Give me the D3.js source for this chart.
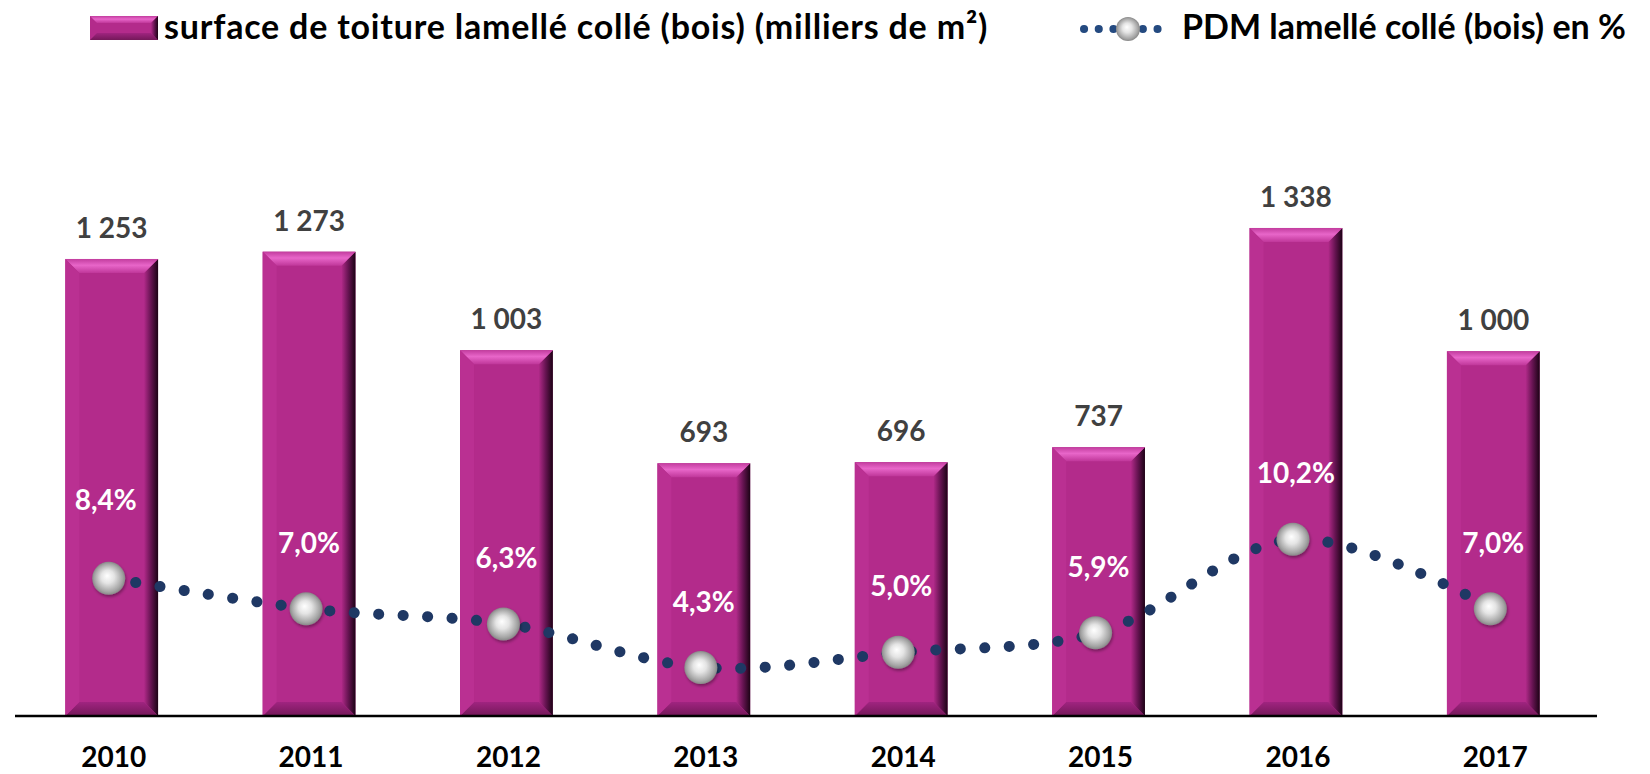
<!DOCTYPE html>
<html>
<head>
<meta charset="utf-8">
<script src="https://cdnjs.cloudflare.com/ajax/libs/d3/7.8.5/d3.min.js"></script>
<style>
  body { margin: 0; background: #fff; }
  text { font-family: "Lato", "Open Sans", sans-serif; font-weight: 700; }
</style>
</head>
<body>
<div id="chart"></div>
<script>
// DATA
var years = ["2010", "2011", "2012", "2013", "2014", "2015", "2016", "2017"];
var surfaces = [1253, 1273, 1003, 693, 696, 737, 1338, 1000]; // milliers de m2
var pdm = [8.4, 7.0, 6.3, 4.3, 5.0, 5.9, 10.2, 7.0]; // en %
var legendLabels = ["surface de toiture lamellé collé (bois) (milliers de m²)", "PDM lamellé collé (bois) en %"];

var rows = years.map(function(y, i) { return {year: y, surface: surfaces[i], pdm: pdm[i]}; });

var width = 1650;
var height = 774;
var baseline = 716;

var svg = d3.select("#chart").append("svg")
  .attr("width", width)
  .attr("height", height);

var fr = d3.formatLocale({decimal: ",", thousands: " ", grouping: [3], currency: ["", " €"]});
var fmtSurface = fr.format(",d");
var fmtPct = function(v) { return fr.format(".1f")(v) + "%"; };

// gradients
var defs = svg.append("defs");
var topGrad = defs.append("linearGradient").attr("id", "topBevel")
  .attr("x1", 0).attr("y1", 0).attr("x2", 0).attr("y2", 1);
topGrad.append("stop").attr("offset", "0%").attr("stop-color", "#c23c9e");
topGrad.append("stop").attr("offset", "45%").attr("stop-color", "#e866c9");
topGrad.append("stop").attr("offset", "100%").attr("stop-color", "#c0379a");

var rightGrad = defs.append("linearGradient").attr("id", "rightBevel")
  .attr("x1", 0).attr("y1", 0).attr("x2", 1).attr("y2", 0);
rightGrad.append("stop").attr("offset", "0%").attr("stop-color", "#b12a89");
rightGrad.append("stop").attr("offset", "50%").attr("stop-color", "#641350");
rightGrad.append("stop").attr("offset", "100%").attr("stop-color", "#1c0315");

var bottomGrad = defs.append("linearGradient").attr("id", "bottomBevel")
  .attr("x1", 0).attr("y1", 0).attr("x2", 0).attr("y2", 1);
bottomGrad.append("stop").attr("offset", "0%").attr("stop-color", "#a02480");
bottomGrad.append("stop").attr("offset", "100%").attr("stop-color", "#741859");

var ball = defs.append("radialGradient").attr("id", "ball")
  .attr("cx", "50%").attr("cy", "50%").attr("r", "50%")
  .attr("fx", "45%").attr("fy", "42%");
ball.append("stop").attr("offset", "0%").attr("stop-color", "#ffffff");
ball.append("stop").attr("offset", "40%").attr("stop-color", "#e4e4e4");
ball.append("stop").attr("offset", "85%").attr("stop-color", "#a4a4a4");
ball.append("stop").attr("offset", "100%").attr("stop-color", "#888888");

var shadow = defs.append("filter").attr("id", "shadow")
  .attr("x", "-50%").attr("y", "-50%").attr("width", "200%").attr("height", "200%");
shadow.append("feDropShadow").attr("dx", 1).attr("dy", 2).attr("stdDeviation", 1.5)
  .attr("flood-color", "#000").attr("flood-opacity", 0.35);

// scales
var x = d3.scaleBand()
  .domain(years)
  .range([13, 1592])
  .paddingInner(0.53)
  .paddingOuter(0.265);

var y = d3.scaleLinear()
  .domain([0, 1963])
  .range([baseline, 0]);

var y2 = d3.scaleLinear()
  .domain([0, 35])
  .range([761, 0]);

function cx(d) { return x(d.year) + x.bandwidth() / 2; }

//BARS
var bev = 14;
var bars = svg.selectAll("g.bar").data(rows)
  .enter().append("g")
  .attr("class", "bar");

bars.append("rect")
  .attr("x", function(d) { return x(d.year); })
  .attr("y", function(d) { return y(d.surface); })
  .attr("width", x.bandwidth())
  .attr("height", function(d) { return baseline - y(d.surface); })
  .style("fill", "#b32b8b");

// right shade
bars.append("polygon")
  .attr("points", function(d) {
    var x0 = x(d.year), x1 = x0 + x.bandwidth(), t = y(d.surface);
    return [[x1 - bev, t + bev], [x1, t], [x1, baseline], [x1 - bev, baseline - bev]].join(" ");
  })
  .style("fill", "url(#rightBevel)");

// bottom bevel
bars.append("polygon")
  .attr("points", function(d) {
    var x0 = x(d.year), x1 = x0 + x.bandwidth();
    return [[x0, baseline], [x0 + bev, baseline - bev], [x1 - bev, baseline - bev], [x1, baseline]].join(" ");
  })
  .style("fill", "url(#bottomBevel)");

// top bevel
bars.append("polygon")
  .attr("points", function(d) {
    var x0 = x(d.year), x1 = x0 + x.bandwidth(), t = y(d.surface);
    return [[x0, t], [x1, t], [x1 - bev, t + bev], [x0 + bev, t + bev]].join(" ");
  })
  .style("fill", "url(#topBevel)");

// left light edge
bars.append("polygon")
  .attr("points", function(d) {
    var x0 = x(d.year), t = y(d.surface);
    return [[x0, t], [x0 + bev, t + bev], [x0 + bev, baseline - bev], [x0, baseline]].join(" ");
  })
  .style("fill", "#ba3092");

// value labels
svg.selectAll("text.val").data(rows)
  .enter().append("text")
  .attr("class", "val")
  .attr("x", cx)
  .attr("y", function(d) { return y(d.surface) - 21; })
  .attr("text-anchor", "middle")
  .style("font-size", "28px")
  .style("fill", "#404040")
  .text(function(d) { return fmtSurface(d.surface); });

//X AXIS
svg.append("line")
  .attr("x1", 15).attr("x2", 1597)
  .attr("y1", baseline).attr("y2", baseline)
  .style("stroke", "#000")
  .style("stroke-width", 2.5);

svg.selectAll("text.year").data(years)
  .enter().append("text")
  .attr("class", "year")
  .attr("x", function(d) { return x(d) + x.bandwidth() / 2 + 2; })
  .attr("y", 767)
  .attr("text-anchor", "middle")
  .style("font-size", "28px")
  .style("fill", "#000")
  .text(function(d) { return d; });

//LINE
var valueLine = d3.line()
  .x(cx)
  .y(function(d) { return y2(d.pdm); })
  .curve(d3.curveCatmullRom.alpha(0.5));

svg.append("path")
  .attr("d", valueLine(rows))
  .style("fill", "none")
  .style("stroke", "#1f3864")
  .style("stroke-width", 11)
  .style("stroke-linecap", "round")
  .style("stroke-dasharray", "0.1 24.4");

svg.selectAll("circle.pt").data(rows)
  .enter().append("circle")
  .attr("class", "pt")
  .attr("cx", function(d) { return cx(d) - 3; })
  .attr("cy", function(d) { return y2(d.pdm); })
  .attr("r", 16.5)
  .style("fill", "url(#ball)")
  .attr("filter", "url(#shadow)");

// first label sits a bit higher in the original
svg.selectAll("text.pct").data(rows)
  .enter().append("text")
  .attr("class", "pct")
  .attr("x", function(d, i) { return cx(d) - (i === 0 ? 6 : 0); })
  .attr("y", function(d, i) { return y2(d.pdm) - 56 - (i === 0 ? 12 : 0); })
  .attr("text-anchor", "middle")
  .style("font-size", "28px")
  .style("fill", "#fff")
  .text(function(d) { return fmtPct(d.pdm); });

//LEGEND
var lg1 = svg.append("g");
var sw = {x: 90, y: 16, w: 68, h: 24, b: 7};
lg1.append("rect")
  .attr("x", sw.x).attr("y", sw.y).attr("width", sw.w).attr("height", sw.h)
  .style("fill", "#b32b8b");
lg1.append("polygon")
  .attr("points", [[sw.x, sw.y], [sw.x + sw.w, sw.y], [sw.x + sw.w - sw.b, sw.y + sw.b], [sw.x + sw.b, sw.y + sw.b]].join(" "))
  .style("fill", "url(#topBevel)");
lg1.append("polygon")
  .attr("points", [[sw.x, sw.y + sw.h], [sw.x + sw.b, sw.y + sw.h - sw.b], [sw.x + sw.w - sw.b, sw.y + sw.h - sw.b], [sw.x + sw.w, sw.y + sw.h]].join(" "))
  .style("fill", "url(#bottomBevel)");
lg1.append("polygon")
  .attr("points", [[sw.x + sw.w - sw.b, sw.y + sw.b], [sw.x + sw.w, sw.y], [sw.x + sw.w, sw.y + sw.h], [sw.x + sw.w - sw.b, sw.y + sw.h - sw.b]].join(" "))
  .style("fill", "url(#rightBevel)");
lg1.append("text")
  .attr("x", 164).attr("y", 39)
  .style("font-size", "34px")
  .style("letter-spacing", "0.8px")
  .style("fill", "#000")
  .text(legendLabels[0]);

var lg2 = svg.append("g");
lg2.append("line")
  .attr("x1", 1084).attr("x2", 1172)
  .attr("y1", 29).attr("y2", 29)
  .style("stroke", "#244a80")
  .style("stroke-width", 8)
  .style("stroke-linecap", "round")
  .style("stroke-dasharray", "0.1 14.6");
lg2.append("circle")
  .attr("cx", 1128).attr("cy", 29).attr("r", 12)
  .style("fill", "url(#ball)");
lg2.append("text")
  .attr("x", 1182).attr("y", 39)
  .style("font-size", "34px")
  .style("fill", "#000")
  .text(legendLabels[1]);
</script>
</body>
</html>
